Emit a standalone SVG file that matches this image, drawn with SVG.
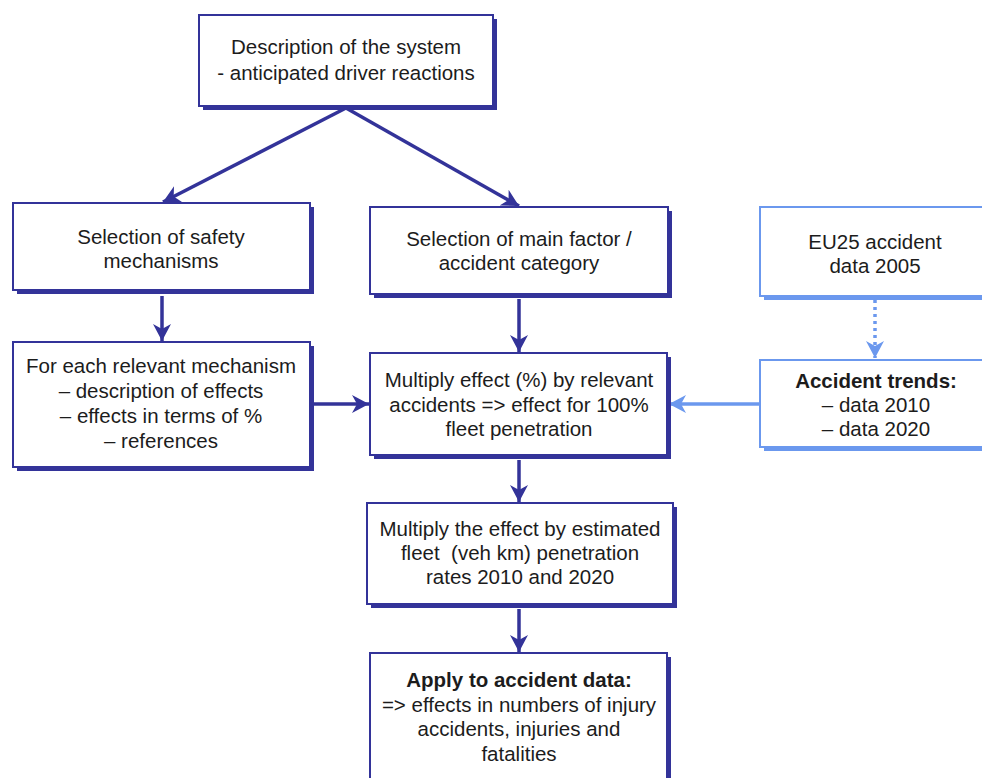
<svg xmlns="http://www.w3.org/2000/svg" width="982" height="778" viewBox="0 0 982 778">
  <style>
    .box { fill: #ffffff; stroke: #333399; stroke-width: 2; }
    .shadow { fill: #333399; }
    .box-lt { fill: #ffffff; stroke: #6b98ee; stroke-width: 2; }
    .shadow-lt { fill: #6b98ee; }
    .lbl { font-family: "Liberation Sans", Arial, sans-serif; font-size: 20.5px; fill: #1c1c1c; text-anchor: middle; }
    .b { font-weight: bold; }
    .conn { fill: none; stroke: #333399; stroke-width: 3.5; marker-end: url(#arrow); }
    .conn-lt { fill: none; stroke: #6b98ee; stroke-width: 3.5; marker-end: url(#arrow-lt); }
    .dotted { stroke-dasharray: 3 4; }
  </style>
  <defs>
    <marker id="arrow" markerUnits="userSpaceOnUse" markerWidth="18" markerHeight="18" refX="17" refY="9" orient="auto">
      <path d="M0,0 L17,9 L0,18 L5,9 z" fill="#333399"/>
    </marker>
    <marker id="arrow-lt" markerUnits="userSpaceOnUse" markerWidth="18" markerHeight="18" refX="17" refY="9" orient="auto">
      <path d="M0,0 L17,9 L0,18 L5,9 z" fill="#6b98ee"/>
    </marker>
  </defs>
  <rect width="982" height="778" fill="#ffffff"/>

  <!-- connectors -->
  <g id="connectors">
    <line class="conn" x1="346" y1="108" x2="163" y2="202"/>
    <line class="conn" x1="346" y1="108" x2="519" y2="206"/>
    <line class="conn" x1="162" y1="296" x2="162" y2="341"/>
    <line class="conn" x1="519" y1="299" x2="519" y2="352"/>
    <line class="conn" x1="314" y1="404" x2="369" y2="404"/>
    <line class="conn-lt" x1="760" y1="404" x2="669" y2="404"/>
    <line class="conn-lt dotted" x1="875" y1="300" x2="875" y2="358"/>
    <line class="conn" x1="519" y1="460" x2="519" y2="502"/>
    <line class="conn" x1="519" y1="609" x2="519" y2="652"/>
  </g>

  <g id="node-system">
    <rect class="shadow" x="203" y="19" width="294" height="91"/>
    <rect class="box" x="199" y="15" width="294" height="91"/>
    <text class="lbl" x="346" y="54">Description of the system</text>
    <text class="lbl" x="346" y="80">- anticipated driver reactions</text>
  </g>

  <g id="node-safety">
    <rect class="shadow" x="17" y="207" width="297" height="87"/>
    <rect class="box" x="13" y="203" width="297" height="87"/>
    <text class="lbl" x="161" y="244">Selection of safety</text>
    <text class="lbl" x="161" y="268">mechanisms</text>
  </g>

  <g id="node-factor">
    <rect class="shadow" x="374" y="211" width="298" height="87"/>
    <rect class="box" x="370" y="207" width="298" height="87"/>
    <text class="lbl" x="519" y="246">Selection of main factor /</text>
    <text class="lbl" x="519" y="270">accident category</text>
  </g>

  <g id="node-eu25">
    <rect class="shadow-lt" x="764" y="211" width="240" height="89"/>
    <rect class="box-lt" x="760" y="207" width="240" height="89"/>
    <text class="lbl" x="875" y="249">EU25 accident</text>
    <text class="lbl" x="875" y="273">data 2005</text>
  </g>

  <g id="node-trends">
    <rect class="shadow-lt" x="764" y="364" width="240" height="87"/>
    <rect class="box-lt" x="760" y="360" width="240" height="87"/>
    <text class="lbl b" x="876" y="388">Accident trends:</text>
    <text class="lbl" x="876" y="412">– data 2010</text>
    <text class="lbl" x="876" y="436">– data 2020</text>
  </g>

  <g id="node-mechanism">
    <rect class="shadow" x="17" y="346" width="297" height="125"/>
    <rect class="box" x="13" y="342" width="297" height="125"/>
    <text class="lbl" x="161" y="373">For each relevant mechanism</text>
    <text class="lbl" x="161" y="398">– description of effects</text>
    <text class="lbl" x="161" y="423">– effects in terms of %</text>
    <text class="lbl" x="161" y="448">– references</text>
  </g>

  <g id="node-multiply-effect">
    <rect class="shadow" x="374" y="357" width="297" height="102"/>
    <rect class="box" x="370" y="353" width="297" height="102"/>
    <text class="lbl" x="519" y="387">Multiply effect (%) by relevant</text>
    <text class="lbl" x="519" y="412">accidents =&gt; effect for 100%</text>
    <text class="lbl" x="519" y="436">fleet penetration</text>
  </g>

  <g id="node-multiply-fleet">
    <rect class="shadow" x="371" y="507" width="306" height="101"/>
    <rect class="box" x="367" y="503" width="306" height="101"/>
    <text class="lbl" x="520" y="536">Multiply the effect by estimated</text>
    <text class="lbl" x="520" y="560">fleet &#160;(veh km) penetration</text>
    <text class="lbl" x="520" y="584">rates 2010 and 2020</text>
  </g>

  <g id="node-apply">
    <rect class="shadow" x="374" y="657" width="297" height="140"/>
    <rect class="box" x="370" y="653" width="297" height="140"/>
    <text class="lbl b" x="519" y="687">Apply to accident data:</text>
    <text class="lbl" x="519" y="712">=&gt; effects in numbers of injury</text>
    <text class="lbl" x="519" y="736">accidents, injuries and</text>
    <text class="lbl" x="519" y="761">fatalities</text>
  </g>
</svg>
